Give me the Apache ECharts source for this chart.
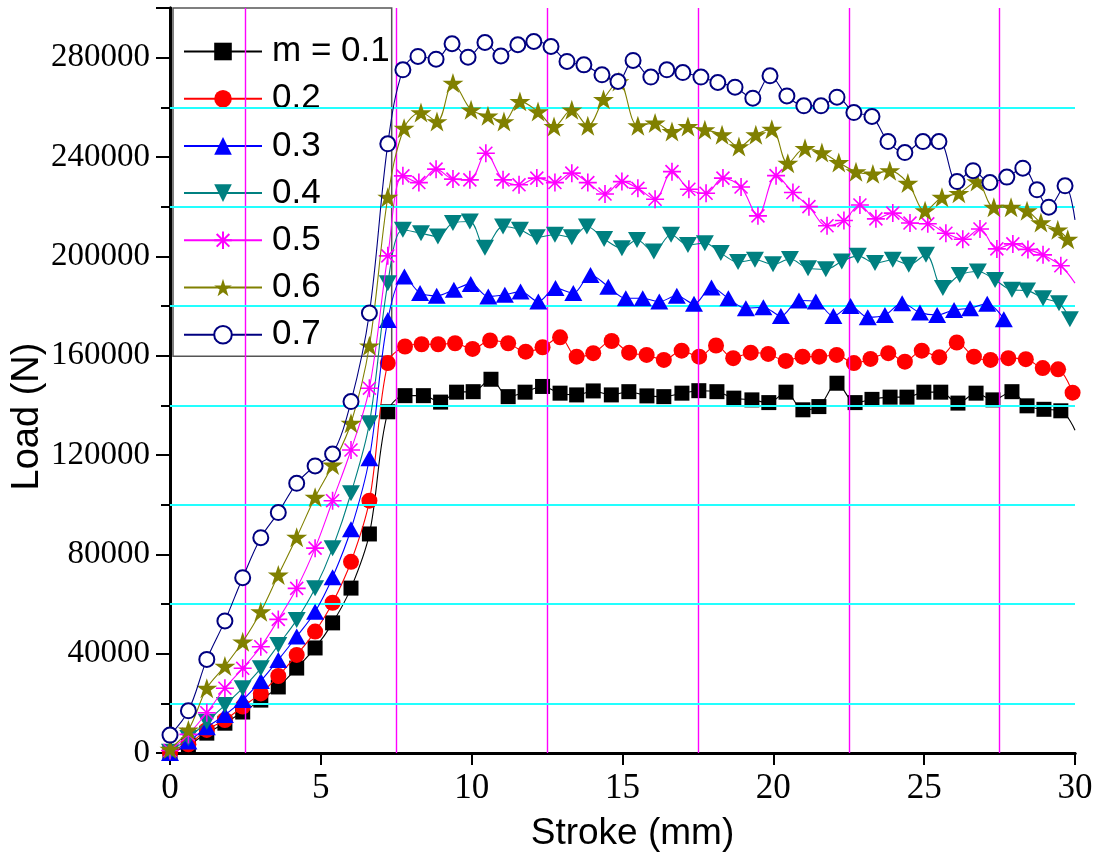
<!DOCTYPE html>
<html><head><meta charset="utf-8">
<script src="https://cdn.jsdelivr.net/npm/echarts/dist/echarts.min.js"></script>
<style>html,body{margin:0;padding:0;background:#fff}#c{width:1100px;height:859px}</style>
</head><body><div id="c"></div>
<script>
// ---------------- DATA ----------------
const seriesNames = ['m = 0.1', '0.2', '0.3', '0.4', '0.5', '0.6', '0.7'];
// common stroke positions (mm) of the first 13 markers (loading ramp)
const riseStroke = [0, 0.61, 1.22, 1.82, 2.41, 3.01, 3.59, 4.20, 4.81, 5.39, 6.00, 6.61, 7.22];

const rise01 = [0, 3200, 8000, 12000, 16500, 21300, 26600, 34200, 42300, 52400, 66400, 88200, 137400];
const rise02 = [0, 3500, 9300, 13300, 18700, 24000, 31000, 39500, 48900, 60500, 77000, 101600, 157000];
const rise03 = [0, 4600, 10400, 15300, 21300, 29000, 37500, 46900, 56900, 70800, 90100, 118700, 174400];
const rise04 = [500, 6000, 12600, 19300, 26100, 34100, 43500, 53600, 66300, 82500, 104600, 132800, 189200];
const rise05 = [1000, 7500, 16200, 26100, 34100, 42800, 53800, 66300, 82500, 101600, 122000, 146900, 200200];
const rise06 = [1600, 9300, 26100, 35000, 44800, 56900, 71700, 86900, 103000, 116000, 132800, 164000, 223800];
const rise07 = [7200, 17000, 37700, 53200, 70600, 86700, 96800, 108600, 115600, 120400, 141500, 177200, 245300];

// plateau stroke positions (mm) and loads (N)
const platStroke01 = [7.79, 8.40, 8.97, 9.50, 10.05, 10.64, 11.21, 11.77, 12.35, 12.93, 13.48, 14.03, 14.63, 15.21, 15.81, 16.37, 16.97, 17.53, 18.13, 18.69, 19.29, 19.85, 20.42, 20.98, 21.51, 22.11, 22.71, 23.27, 23.87, 24.43, 24.99, 25.55, 26.12, 26.72, 27.28, 27.91, 28.41, 28.97, 29.53];
const platLoad01 = [143900, 143900, 141300, 145300, 145500, 150500, 143500, 145300, 147600, 144900, 144200, 145800, 144200, 145500, 143800, 143500, 144900, 145900, 145500, 142900, 142200, 141100, 145300, 138200, 139500, 148900, 141100, 142400, 143300, 143300, 145300, 145300, 140900, 144900, 142200, 145500, 139800, 138400, 137800];

const platStroke02 = [7.79, 8.34, 8.89, 9.45, 10.03, 10.61, 11.21, 11.79, 12.35, 12.93, 13.48, 14.03, 14.64, 15.22, 15.80, 16.37, 16.96, 17.54, 18.10, 18.67, 19.25, 19.83, 20.41, 20.97, 21.52, 22.10, 22.67, 23.22, 23.81, 24.36, 24.92, 25.50, 26.08, 26.65, 27.20, 27.79, 28.37, 28.93, 29.44, 29.92];
const platLoad02 = [163700, 164600, 164600, 165000, 162700, 166100, 165000, 161600, 163400, 167400, 159600, 161000, 165900, 161200, 160300, 158300, 162000, 159600, 164100, 159000, 161200, 160700, 157900, 159600, 159600, 160300, 157000, 158700, 161000, 157600, 162000, 159400, 165300, 159600, 158300, 159000, 158600, 155000, 154500, 145100];

const platStroke03 = [7.77, 8.29, 8.84, 9.41, 9.97, 10.55, 11.10, 11.62, 12.21, 12.78, 13.37, 13.94, 14.53, 15.11, 15.67, 16.22, 16.80, 17.37, 17.95, 18.51, 19.09, 19.67, 20.25, 20.85, 21.41, 21.99, 22.56, 23.13, 23.70, 24.27, 24.86, 25.43, 25.99, 26.52, 27.09, 27.64];
const platLoad03 = [191900, 185200, 184100, 186500, 188900, 183800, 184500, 185800, 181800, 187200, 185200, 192500, 187800, 183100, 183100, 181800, 184100, 180900, 187400, 183100, 179100, 179500, 176000, 182200, 181800, 176000, 180000, 175500, 176400, 181100, 177400, 176400, 178400, 179100, 180900, 174700];

const platStroke04 = [7.72, 8.32, 8.88, 9.38, 9.94, 10.44, 11.04, 11.60, 12.16, 12.76, 13.32, 13.82, 14.39, 14.98, 15.48, 16.04, 16.61, 17.17, 17.73, 18.26, 18.83, 19.39, 19.99, 20.55, 21.15, 21.74, 22.27, 22.80, 23.37, 23.96, 24.49, 25.06, 25.62, 26.18, 26.78, 27.35, 27.91, 28.41, 28.94, 29.47, 29.83];
const platLoad04 = [210700, 209300, 208000, 213400, 214000, 203500, 212000, 210700, 207700, 208700, 207700, 212000, 207000, 203300, 206600, 201900, 208700, 204600, 205300, 201300, 197700, 198600, 196800, 198900, 195200, 194800, 197900, 200200, 197300, 198600, 196600, 200600, 187200, 192500, 193900, 190500, 186500, 186200, 183100, 181100, 174700];

const platStroke05 = [7.72, 8.25, 8.82, 9.38, 9.94, 10.47, 11.04, 11.57, 12.16, 12.76, 13.32, 13.85, 14.42, 14.98, 15.51, 16.08, 16.64, 17.20, 17.77, 18.33, 18.93, 19.49, 20.09, 20.65, 21.18, 21.78, 22.34, 22.87, 23.40, 23.96, 24.53, 25.12, 25.72, 26.28, 26.85, 27.41, 27.94, 28.44, 28.94, 29.53];
const platLoad05 = [232400, 229700, 235100, 231100, 230800, 241500, 230800, 228800, 231500, 229700, 233500, 229700, 225100, 230100, 227400, 223000, 234100, 227000, 225400, 231500, 227900, 216300, 232500, 225700, 220000, 212300, 214400, 220700, 215100, 217400, 213400, 213100, 209300, 206900, 211000, 203000, 205000, 202800, 200600, 196200];

const platStroke06 = [7.76, 8.32, 8.85, 9.38, 9.98, 10.54, 11.07, 11.60, 12.20, 12.73, 13.32, 13.85, 14.37, 14.88, 15.51, 16.08, 16.64, 17.17, 17.73, 18.30, 18.86, 19.42, 19.95, 20.48, 21.05, 21.61, 22.17, 22.74, 23.30, 23.86, 24.46, 25.03, 25.59, 26.15, 26.75, 27.31, 27.88, 28.41, 28.87, 29.43, 29.76];
const platLoad06 = [251600, 257900, 254300, 269800, 259000, 256600, 254300, 262400, 258300, 252300, 259000, 252600, 263200, 270400, 252600, 253700, 250300, 252300, 251000, 249000, 244200, 249000, 251200, 237500, 243500, 241800, 237800, 234100, 233200, 234500, 229500, 218400, 223800, 225400, 230100, 219800, 219800, 218400, 213600, 210700, 206900];

const platStroke07 = [7.72, 8.22, 8.82, 9.35, 9.88, 10.44, 10.97, 11.53, 12.06, 12.63, 13.16, 13.72, 14.32, 14.85, 15.35, 15.94, 16.47, 17.00, 17.60, 18.16, 18.73, 19.32, 19.89, 20.45, 21.01, 21.58, 22.11, 22.67, 23.27, 23.80, 24.36, 24.96, 25.49, 26.09, 26.62, 27.18, 27.74, 28.27, 28.74, 29.13, 29.67];
const platLoad07 = [275100, 280500, 279400, 285600, 280200, 286100, 280700, 285200, 286500, 284500, 278500, 277100, 273100, 270400, 278900, 272200, 275100, 274000, 272200, 270000, 268100, 263700, 272700, 264600, 260600, 260600, 264100, 257900, 256300, 246200, 241800, 246200, 246200, 230100, 234500, 229700, 231900, 235500, 226800, 219800, 228400];

// where each curve leaves the frame (no marker there): [stroke, load] or null
const lineEnd01 = [30, 130000];
const lineEnd05 = [30, 189200];
const lineEnd07 = [30, 214700];

// reference grid lines
const magentaStrokeLines = [2.5, 7.5, 12.5, 17.5, 22.5, 27.5];
const cyanLoadLines = [20000, 60000, 100000, 140000, 180000, 220000, 260000];

// ---------------- BUILD ----------------
function buildData(rise, platX, platY, end) {
  const d = [];
  rise.forEach((v, i) => d.push([riseStroke[i], v]));
  platY.forEach((v, i) => d.push([platX[i], v]));
  if (end) d.push({ value: end, symbol: 'none' });
  return d;
}
const STAR = 'path://M0,-1L0.2245,-0.309L0.951,-0.309L0.363,0.118L0.588,0.809L0,0.382L-0.588,0.809L-0.363,0.118L-0.951,-0.309L-0.2245,-0.309Z';
const ASTER = 'path://M0,-1L0,1M-1,0L1,0M-0.72,-0.72L0.72,0.72M-0.72,0.72L0.72,-0.72';
const SERIF = "'Liberation Serif', 'Times New Roman', serif";
const SANS = "'Liberation Sans', Arial, sans-serif";

const defs = [
  { data: buildData(rise01, platStroke01, platLoad01, lineEnd01), color: '#000000', symbol: 'rect', size: 15 },
  { data: buildData(rise02, platStroke02, platLoad02, null), color: '#ff0000', symbol: 'circle', size: 16 },
  { data: buildData(rise03, platStroke03, platLoad03, null), color: '#0000ff', symbol: 'triangle', size: [18, 16] },
  { data: buildData(rise04, platStroke04, platLoad04, null), color: '#008080', symbol: 'triangle', size: [18, 16], rotate: 180 },
  { data: buildData(rise05, platStroke05, platLoad05, lineEnd05), color: '#ff00ff', symbol: ASTER, size: 18, stroke: true },
  { data: buildData(rise06, platStroke06, platLoad06, null), color: '#808000', symbol: STAR, size: 21 },
  { data: buildData(rise07, platStroke07, platLoad07, lineEnd07), color: '#000080', symbol: 'emptyCircle', size: 15, empty: true }
];

const series = [{
  type: 'line', name: '_grid', data: [[0, 0]], symbol: 'none', lineStyle: { width: 0 }, z: 1, silent: true,
  markLine: {
    silent: true, symbol: ['none', 'none'], label: { show: false }, animation: false,
    data: magentaStrokeLines.map(v => ({ xAxis: v, lineStyle: { color: '#ff00ff', width: 1.4, type: 'solid' } }))
      .concat(cyanLoadLines.map(v => ({ yAxis: v, lineStyle: { color: '#22ffff', width: 1.8, type: 'solid' } })))
  }
}];
defs.forEach((d, i) => {
  series.push({
    type: 'line', name: seriesNames[i], data: d.data, z: 3 + i,
    smooth: 0.35,
    symbol: d.symbol, symbolSize: d.size, symbolRotate: d.rotate || 0, symbolKeepAspect: true,
    lineStyle: { color: d.color, width: 1.1 },
    itemStyle: d.stroke ? { color: d.color, borderColor: d.color, borderWidth: 1.6 }
      : d.empty ? { color: d.color, borderColor: d.color, borderWidth: 1.3 }
      : { color: d.color, borderWidth: 0 },
    emphasis: { disabled: true }
  });
});

const chart = echarts.init(document.getElementById('c'));
chart.setOption({
  animation: false,
  backgroundColor: '#ffffff',
  grid: { left: 170, right: 25, top: 8, bottom: 106, outerBoundsMode: 'none' },
  legend: {
    data: seriesNames, orient: 'vertical', left: 173, top: 8,
    padding: [26, 2, 4, 10], itemWidth: 78, itemHeight: 22, itemGap: 12.2,
    borderColor: '#555', borderWidth: 1.5,
    textStyle: { fontFamily: SANS, fontSize: 35, color: '#000', padding: [0, 0, 0, 5] }
  },
  xAxis: [{
    type: 'value', min: 0, max: 30, interval: 5,
    name: 'Stroke (mm)', nameLocation: 'middle', nameGap: 62, nameMoveOverlap: false,
    nameTextStyle: { fontFamily: SANS, fontSize: 37, color: '#000', padding: [0, 0, 0, 20] },
    axisLine: { lineStyle: { color: '#000', width: 3 } },
    axisTick: { show: true, length: 12, lineStyle: { color: '#000', width: 2 } },
    axisLabel: { fontFamily: 'Liberation Serif', fontSize: 35, color: '#000', margin: 18 },
    splitLine: { show: false }
  }, {
    type: 'value', min: 0, max: 30, position: 'top',
    axisLine: { lineStyle: { color: '#000', width: 3 } },
    axisTick: { show: false }, axisLabel: { show: false }, splitLine: { show: false }
  }],
  yAxis: [{
    type: 'value', min: 0, max: 300000, interval: 40000,
    name: 'Load (N)', nameLocation: 'middle', nameGap: 123, nameMoveOverlap: false,
    nameTextStyle: { fontFamily: SANS, fontSize: 38, color: '#000', padding: [0, 72, 0, 0] },
    axisLine: { show: true, lineStyle: { color: '#000', width: 3 } },
    axisTick: { show: true, length: 14, lineStyle: { color: '#000', width: 2 } },
    minorTick: { show: true, splitNumber: 2, length: 9, lineStyle: { color: '#000', width: 2 } },
    axisLabel: { fontFamily: SERIF, fontSize: 33, color: '#000', margin: 20, showMaxLabel: false,
      formatter: v => String(v) },
    splitLine: { show: false }, minorSplitLine: { show: false }
  }, {
    type: 'value', min: 0, max: 300000, position: 'right',
    axisLine: { show: true, lineStyle: { color: '#000', width: 3 } },
    axisTick: { show: false }, axisLabel: { show: false }, splitLine: { show: false }
  }],
  series: series
});
</script></body></html>
